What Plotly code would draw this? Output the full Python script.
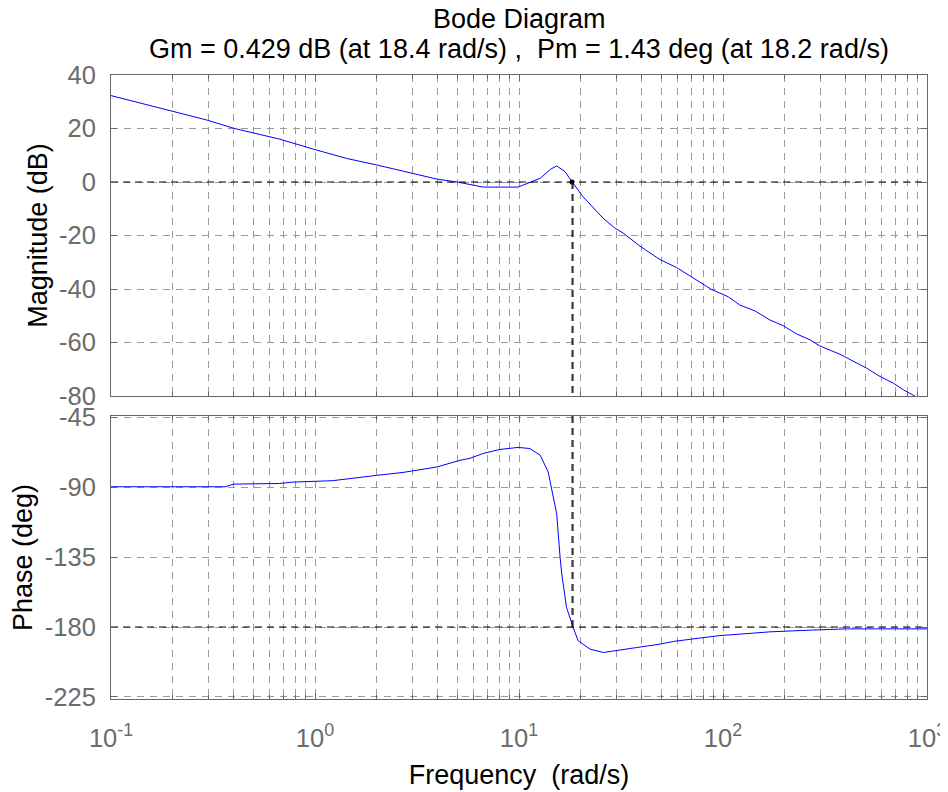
import plotly.graph_objects as go

# ---------------- data ----------------
freq_mag = [0.1, 0.198, 0.294, 0.398, 0.673, 0.98, 1.43, 2.0, 2.92, 3.95, 5.05,
            6.67, 9.9, 12.7, 14.3, 15.3, 16.8, 18.2, 18.4, 20.6, 25.8, 29.5, 32.4,
            39.2, 49.1, 59.3, 77.1, 88, 106, 121, 143.5, 170, 197, 229.6, 267,
            298.5, 374.6, 435, 506, 588, 684, 766, 873, 1000]
mag_db = [32.3, 26.5, 23.2, 20.1, 16.0, 12.3, 8.8, 6.4, 3.5, 1.1, -0.1,
          -1.9, -1.9, 1.4, 4.8, 6.0, 3.9, 0.0, -0.43, -5.5, -13.5, -17.2, -19.1,
          -24.0, -29.0, -32.0, -37.3, -40.2, -42.9, -46.0, -48.2, -51.6, -53.7, -56.8, -59.0,
          -61.3, -64.4, -67.1, -69.6, -72.7, -75.2, -77.7, -80.2, -82.5]

freq_ph = [0.1, 0.363, 0.4, 0.67, 0.78, 0.98, 1.22, 2.0, 2.7, 3.95, 4.6, 5.14,
           5.75, 6.67, 8.07, 9.9, 11.3, 12.7, 13.9, 15.3, 15.9, 16.2, 17.1, 18.2,
           18.4, 19.5, 22.3, 25.9, 30.1, 37.8, 49.1, 57, 77, 96.6, 121, 170, 270,
           404, 1000]
phase_deg = [-89.8, -89.8, -88.1, -87.7, -86.8, -86.1, -85.9, -82.5, -80.6, -77.1, -74.5, -72.8,
             -71.5, -68.4, -65.8, -64.5, -65.2, -69.5, -80.3, -107.1, -135.1, -145.8, -167.4, -178.6,
             -180.0, -188.9, -194.2, -196.4, -195.3, -193.2, -191.0, -189.3, -187.1, -185.5, -184.6, -183.1, -182.0,
             -181.2, -181.2]

gm_db, gm_freq = 0.429, 18.4
pm_deg, pm_freq = 1.43, 18.2

title_line1 = "Bode Diagram"
title_line2 = "Gm = 0.429 dB (at 18.4 rad/s) ,&nbsp;&nbsp;Pm = 1.43 deg (at 18.2 rad/s)"

x_major = [0.1, 1, 10, 100, 1000]
x_major_text = ["10<sup>-1</sup>", "10<sup>0</sup>", "10<sup>1</sup>", "10<sup>2</sup>", "10<sup>3</sup>"]
mag_ticks = [40, 20, 0, -20, -40, -60, -80]
mag_tick_text = ["40", "20", "0", "-20", "-40", "-60", "-80"]
phase_ticks = [-45, -90, -135, -180, -225]
phase_tick_text = ["-45", "-90", "-135", "-180", "-225"]

mag_range = [-80, 40]
phase_range = [-226.3, -44.3]

# ---------------- style ----------------
FONT = "Liberation Sans, Arial, Helvetica, sans-serif"
GRID = "#9a9a9a"
AXC = "#666666"
TICKC = "#6b6b6b"
GDASH = "7px,6px"
BDASH = "7px,5px"

x_minor = [m * 10 ** k for k in range(-1, 3) for m in range(2, 10)]

fig = go.Figure()

fig.add_trace(go.Scatter(x=freq_mag, y=mag_db, mode="lines",
                         line=dict(color="#0000ff", width=1), xaxis="x", yaxis="y",
                         showlegend=False, hoverinfo="skip"))
fig.add_trace(go.Scatter(x=freq_ph, y=phase_deg, mode="lines",
                         line=dict(color="#0000ff", width=1), xaxis="x2", yaxis="y2",
                         showlegend=False, hoverinfo="skip"))

fig.add_trace(go.Scatter(x=[x_major[0], x_major[-1]], y=[0, 0], mode="lines",
                         line=dict(color="black", width=1, dash=BDASH), xaxis="x", yaxis="y",
                         showlegend=False, hoverinfo="skip"))
fig.add_trace(go.Scatter(x=[x_major[0], x_major[-1]], y=[-180, -180], mode="lines",
                         line=dict(color="black", width=1, dash=BDASH), xaxis="x2", yaxis="y2",
                         showlegend=False, hoverinfo="skip"))

for f in (pm_freq, gm_freq):
    fig.add_trace(go.Scatter(x=[f, f], y=[0, mag_range[0]], mode="lines",
                             line=dict(color="black", width=1, dash=BDASH), xaxis="x", yaxis="y",
                             showlegend=False, hoverinfo="skip"))
    fig.add_trace(go.Scatter(x=[f, f], y=[phase_range[1], -180], mode="lines",
                             line=dict(color="black", width=1, dash=BDASH), xaxis="x2", yaxis="y2",
                             showlegend=False, hoverinfo="skip"))

fig.add_trace(go.Scatter(x=[pm_freq], y=[0], mode="markers",
                         marker=dict(color="black", size=5), xaxis="x", yaxis="y",
                         showlegend=False, hoverinfo="skip"))

TICK_SIZE = 25.5
LABEL_SIZE = 27
common_x = dict(type="log", range=[-1, 3], tickvals=x_major, ticktext=x_major_text,
                showline=True, linecolor=AXC, linewidth=1, mirror="allticks",
                ticks="inside", ticklen=6, tickcolor=AXC,
                showgrid=True, gridcolor=GRID, griddash=GDASH, gridwidth=1,
                minor=dict(tickvals=x_minor, ticks="inside", ticklen=4, tickcolor=AXC,
                           showgrid=True, gridcolor=GRID, griddash=GDASH, gridwidth=1),
                zeroline=False, automargin=False,
                tickfont=dict(family=FONT, size=TICK_SIZE, color=TICKC))
common_y = dict(showline=True, linecolor=AXC, linewidth=1, mirror="allticks",
                ticks="inside", ticklen=6, tickcolor=AXC,
                showgrid=True, gridcolor=GRID, griddash=GDASH, gridwidth=1,
                zeroline=False, automargin=False,
                tickfont=dict(family=FONT, size=TICK_SIZE, color=TICKC),
                ticklabelstandoff=9)

# The page body adds an 8 px offset; the figure is sized so that it fits the window.
OFF = 8
W, H = 948 - OFF, 792 - OFF
left_px, right_px = 111 - OFF, 927 - OFF
top_px, mag_bot_px, ph_top_px, bot_px = 75 - OFF, 396 - OFF, 416 - OFF, 699 - OFF
plot_h = bot_px - top_px

def paper_y(py):
    return (bot_px - py) / plot_h

fig.update_layout(
    width=W, height=H,
    margin=dict(l=left_px, r=W - right_px, t=top_px, b=H - bot_px, pad=0, autoexpand=False),
    paper_bgcolor="white", plot_bgcolor="white",
    font=dict(family=FONT, color="black"),
    showlegend=False,
    xaxis=dict(common_x, anchor="y", domain=[0, 1], showticklabels=False),
    yaxis=dict(common_y, anchor="x", domain=[paper_y(mag_bot_px), 1],
               range=mag_range, tickvals=mag_ticks, ticktext=mag_tick_text,
               title=dict(text="Magnitude (dB)", font=dict(family=FONT, size=LABEL_SIZE, color="black"),
                          standoff=3)),
    xaxis2=dict(common_x, anchor="y2", domain=[0, 1], ticklabelstandoff=16,
                title=dict(text="Frequency&nbsp;&nbsp;(rad/s)",
                           font=dict(family=FONT, size=LABEL_SIZE, color="black"), standoff=14)),
    yaxis2=dict(common_y, anchor="x2", domain=[0, paper_y(ph_top_px)],
                range=phase_range, tickvals=phase_ticks, ticktext=phase_tick_text,
                title=dict(text="Phase (deg)", font=dict(family=FONT, size=LABEL_SIZE, color="black"),
                           standoff=10)),
    annotations=[
        dict(text=title_line1, xref="paper", yref="paper", x=0.5, y=paper_y(19 - OFF),
             xanchor="center", yanchor="middle", showarrow=False,
             font=dict(family=FONT, size=LABEL_SIZE, color="black")),
        dict(text=title_line2, xref="paper", yref="paper", x=0.5, y=paper_y(49 - OFF),
             xanchor="center", yanchor="middle", showarrow=False,
             font=dict(family=FONT, size=LABEL_SIZE, color="black")),
    ],
)

fig.write_html("out.html")
